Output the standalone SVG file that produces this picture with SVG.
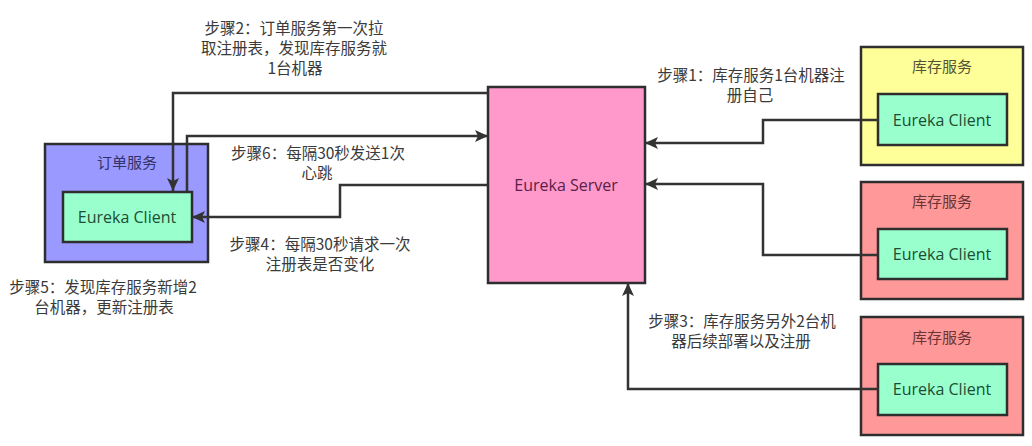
<svg xmlns="http://www.w3.org/2000/svg" width="1032" height="446" viewBox="0 0 1032 446">
<defs>
<marker id="arr" markerUnits="userSpaceOnUse" markerWidth="14" markerHeight="14" refX="13" refY="6" orient="auto" viewBox="0 0 14 12">
<path d="M0,0 L13,6 L0,12 L3,6 z" fill="#333333"/>
</marker>
<style>
.box{stroke:#2e2e2e;stroke-width:2.5}
.client{fill:#99ffcc;stroke:#2e2e2e;stroke-width:2.5}
.ct{font-family:"Open Sans","Noto Sans CJK SC",sans-serif;font-size:16px;fill:#1d4d34;text-anchor:middle}
.lbl{font-family:"Noto Sans CJK SC","Noto Sans",sans-serif;font-size:15px;text-anchor:middle}
.step{font-family:"Noto Sans CJK SC","Noto Sans",sans-serif;font-size:15.5px;fill:#3a3a3a;text-anchor:middle}
.conn{fill:none;stroke:#333333;stroke-width:2.5}
</style>
</defs>
<rect width="1032" height="446" fill="#ffffff"/>

<g id="order-service">
<rect class="box" x="45" y="144" width="163" height="118" fill="#9999ff"/>
<text class="lbl" x="127" y="168" fill="#33336b">订单服务</text>
<rect class="client" x="63" y="192" width="129" height="50"/>
<text class="ct" x="127" y="223">Eureka Client</text>
</g>

<g id="eureka-server">
<rect class="box" x="488" y="87" width="157" height="196" fill="#ff99cc"/>
<text class="ct" x="566" y="191" style="fill:#5a2046">Eureka Server</text>
</g>

<g id="inventory-1">
<rect class="box" x="861" y="47" width="162" height="118" fill="#ffff99"/>
<text class="lbl" x="942" y="72" fill="#555533">库存服务</text>
<rect class="client" x="878" y="94" width="129" height="51"/>
<text class="ct" x="942" y="126">Eureka Client</text>
</g>

<g id="inventory-2">
<rect class="box" x="861" y="182" width="162" height="117" fill="#ff9999"/>
<text class="lbl" x="942" y="207" fill="#6b3333">库存服务</text>
<rect class="client" x="878" y="229" width="129" height="50"/>
<text class="ct" x="942" y="260">Eureka Client</text>
</g>

<g id="inventory-3">
<rect class="box" x="861" y="317" width="162" height="118" fill="#ff9999"/>
<text class="lbl" x="942" y="343" fill="#6b3333">库存服务</text>
<rect class="client" x="878" y="364" width="129" height="51"/>
<text class="ct" x="942" y="395">Eureka Client</text>
</g>

<g id="connectors">
<path class="conn" d="M488,93 H173 V191" marker-end="url(#arr)"/>
<path class="conn" d="M187,192 V136 H488" marker-end="url(#arr)"/>
<path class="conn" d="M488,185 H340 V217 H192" marker-end="url(#arr)"/>
<path class="conn" d="M878,120 H763 V143 H645" marker-end="url(#arr)"/>
<path class="conn" d="M878,255 H763 V184 H645" marker-end="url(#arr)"/>
<path class="conn" d="M878,389 H628 V283" marker-end="url(#arr)"/>
</g>

<g id="labels">
<text class="step" x="294" y="34">步骤2：订单服务第一次拉</text>
<text class="step" x="294" y="54">取注册表，发现库存服务就</text>
<text class="step" x="295" y="74">1台机器</text>
<text class="step" x="318" y="159">步骤6：每隔30秒发送1次</text>
<text class="step" x="317" y="179">心跳</text>
<text class="step" x="320" y="250">步骤4：每隔30秒请求一次</text>
<text class="step" x="320" y="270">注册表是否变化</text>
<text class="step" x="103" y="293">步骤5：发现库存服务新增2</text>
<text class="step" x="104" y="313">台机器，更新注册表</text>
<text class="step" x="751" y="81">步骤1：库存服务1台机器注</text>
<text class="step" x="750" y="101">册自己</text>
<text class="step" x="742" y="327">步骤3：库存服务另外2台机</text>
<text class="step" x="741" y="347">器后续部署以及注册</text>
</g>
</svg>
